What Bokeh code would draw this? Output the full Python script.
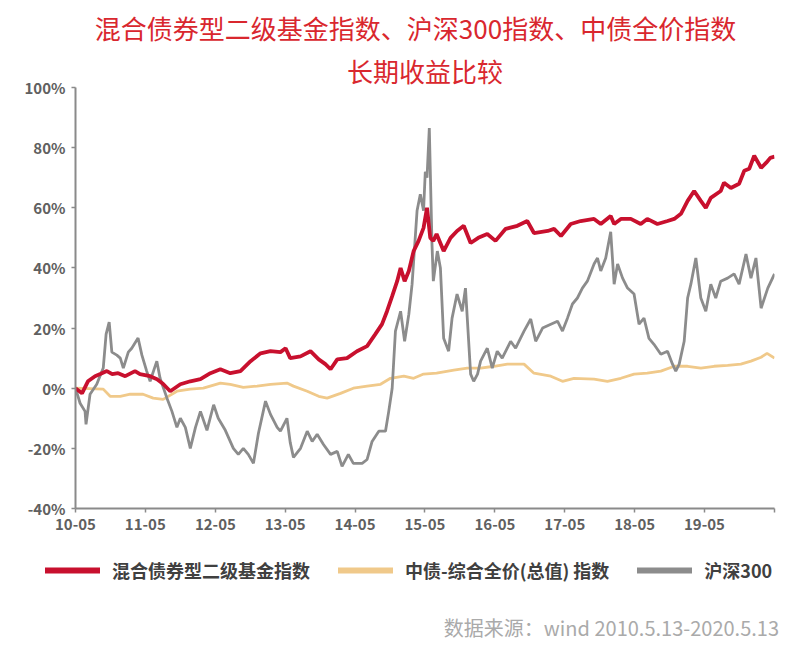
import pandas as pd

from bokeh.plotting import figure
from bokeh.layouts import column
from bokeh.models import (Range1d, FixedTicker, PrintfTickFormatter, Title, Label,
                          Legend, LegendItem)
from bokeh.embed import file_html
from bokeh.resources import INLINE

FONT = "Noto Sans CJK SC"
RED = "#c8102e"
TITLE_RED = "#d9272e"
TAN = "#f0c98a"
GREY = "#8c8c8c"

# 混合债券型二级基金指数 (cumulative return, %)
fund_dates = ["2010-05-13", "2010-06-16", "2010-07-17", "2010-08-23", "2010-09-19", "2010-10-24",
              "2010-11-21", "2010-12-22", "2011-01-28", "2011-03-20", "2011-04-15", "2011-06-07",
              "2011-07-13", "2011-08-13", "2011-09-20", "2011-11-12", "2012-01-03", "2012-02-25",
              "2012-04-17", "2012-06-08", "2012-07-30", "2012-09-21", "2012-11-13", "2013-01-04",
              "2013-02-25", "2013-04-18", "2013-05-15", "2013-06-08", "2013-08-01", "2013-09-22",
              "2013-11-04", "2013-12-09", "2014-01-05", "2014-02-09", "2014-04-01", "2014-05-23",
              "2014-07-15", "2014-08-27", "2014-10-01", "2014-10-27", "2014-11-23", "2014-12-19",
              "2015-01-06", "2015-01-27", "2015-02-18", "2015-03-15", "2015-04-10", "2015-05-06",
              "2015-05-24", "2015-06-10", "2015-06-26", "2015-07-13", "2015-08-19", "2015-09-24",
              "2015-10-28", "2015-12-02", "2016-01-07", "2016-02-16", "2016-04-03", "2016-05-16",
              "2016-07-08", "2016-09-07", "2016-10-29", "2016-12-03", "2017-02-13", "2017-03-18",
              "2017-04-23", "2017-06-13", "2017-08-04", "2017-10-13", "2017-11-17", "2018-01-08",
              "2018-01-26", "2018-03-02", "2018-04-23", "2018-06-14", "2018-07-18", "2018-09-09",
              "2018-11-01", "2018-12-06", "2019-01-10", "2019-02-14", "2019-03-20", "2019-04-24",
              "2019-05-20", "2019-06-15", "2019-08-06", "2019-08-23", "2019-09-28", "2019-11-10",
              "2019-12-07", "2020-01-02", "2020-01-28", "2020-03-04", "2020-03-31", "2020-04-21",
              "2020-05-13"]
fund_pct = [0, -1.7, 2.3, 4.0, 4.7, 5.7,
            4.7, 5.0, 4.0, 5.7, 4.7, 4.0,
            3.0, 1.5, -1.0, 1.3, 2.3, 3.0,
            5.0, 6.3, 5.0, 5.7, 9.0, 11.6,
            12.3, 12.0, 13.3, 10.0, 10.6, 12.3,
            9.6, 8.0, 6.3, 9.6, 10.0, 12.3,
            14.0, 18.0, 21.3, 25.6, 30.6, 35.6,
            40.0, 35.6, 39.0, 45.6, 49.0, 53.3,
            60.0, 50.0, 49.0, 51.3, 45.6, 50.0,
            52.3, 54.0, 48.3, 50.0, 51.3, 49.0,
            53.0, 54.0, 55.6, 51.6, 52.3, 53.0,
            50.6, 54.6, 55.6, 56.3, 54.6, 57.3,
            54.6, 56.3, 56.3, 54.6, 56.3, 54.6,
            55.6, 56.3, 58.0, 62.3, 65.6, 62.3,
            60.0, 63.3, 65.6, 68.3, 66.6, 68.0,
            72.3, 73.0, 77.3, 73.3, 75.0, 76.6,
            77.0]

# 中债-综合全价(总值)指数
bond_dates = ["2010-05-13", "2010-10-05", "2010-11-10", "2011-01-02", "2011-02-23", "2011-05-01",
              "2011-06-23", "2011-08-14", "2011-10-25", "2012-01-03", "2012-03-11", "2012-06-08",
              "2012-07-30", "2012-10-06", "2012-12-17", "2013-02-25", "2013-05-22", "2013-06-25",
              "2013-09-05", "2013-11-04", "2013-12-18", "2014-02-26", "2014-05-04", "2014-07-15",
              "2014-09-23", "2014-11-14", "2015-01-23", "2015-03-15", "2015-05-06", "2015-07-13",
              "2015-10-11", "2015-12-20", "2016-02-28", "2016-05-08", "2016-07-17", "2016-10-12",
              "2016-12-03", "2017-03-01", "2017-05-01", "2017-06-30", "2017-10-13", "2017-12-22",
              "2018-03-02", "2018-05-10", "2018-07-18", "2018-09-27", "2018-12-06", "2019-02-14",
              "2019-04-24", "2019-07-02", "2019-09-11", "2019-11-19", "2020-01-11", "2020-03-04",
              "2020-04-04", "2020-05-13"]
bond_pct = [0, -0.3, -2.7, -2.7, -2.0, -2.0,
            -3.3, -3.7, -1.0, -0.3, 0.0, 1.7,
            1.3, 0.3, 0.7, 1.3, 1.7, 0.7,
            -1.0, -2.7, -3.3, -1.7, 0.0, 0.7,
            1.3, 3.3, 4.0, 3.3, 4.7, 5.0,
            6.0, 6.7, 6.7, 7.3, 8.0, 8.0,
            5.0, 4.0, 2.3, 3.3, 3.0, 2.3,
            3.3, 4.7, 5.0, 5.7, 7.3, 7.3,
            6.7, 7.3, 7.6, 8.0, 9.0, 10.3,
            11.6, 10.0]

# 沪深300
hs_dates = ["2010-05-13", "2010-06-06", "2010-07-02", "2010-07-07", "2010-07-28", "2010-09-01",
            "2010-10-05", "2010-10-20", "2010-11-05", "2010-11-19", "2010-12-15", "2011-01-02",
            "2011-01-18", "2011-02-13", "2011-03-03", "2011-04-05", "2011-04-25", "2011-05-20",
            "2011-06-07", "2011-07-12", "2011-07-29", "2011-09-03", "2011-09-29", "2011-10-25",
            "2011-11-12", "2011-12-08", "2012-01-03", "2012-01-30", "2012-02-25", "2012-03-30",
            "2012-05-04", "2012-05-28", "2012-07-04", "2012-08-15", "2012-09-10", "2012-10-06",
            "2012-11-01", "2012-11-28", "2012-12-24", "2013-01-30", "2013-02-25", "2013-04-01",
            "2013-04-18", "2013-05-22", "2013-06-08", "2013-06-25", "2013-08-01", "2013-09-05",
            "2013-10-01", "2013-10-27", "2013-11-29", "2014-01-05", "2014-02-09", "2014-03-06",
            "2014-04-08", "2014-05-04", "2014-06-19", "2014-07-15", "2014-08-10", "2014-09-14",
            "2014-10-19", "2014-11-05", "2014-11-23", "2014-12-10", "2015-01-06", "2015-01-27",
            "2015-02-18", "2015-03-07", "2015-04-02", "2015-04-19", "2015-05-06", "2015-05-15",
            "2015-05-24", "2015-06-05", "2015-06-19", "2015-06-26", "2015-07-17", "2015-08-02",
            "2015-08-19", "2015-09-14", "2015-10-02", "2015-10-28", "2015-11-24", "2015-12-11",
            "2016-01-07", "2016-01-23", "2016-02-12", "2016-02-28", "2016-04-03", "2016-04-29",
            "2016-05-25", "2016-06-20", "2016-08-03", "2016-08-29", "2016-10-12", "2016-11-16",
            "2016-12-12", "2017-01-17", "2017-03-01", "2017-04-05", "2017-05-01", "2017-05-27",
            "2017-06-22", "2017-07-18", "2017-08-13", "2017-09-08", "2017-10-13", "2017-10-31",
            "2017-11-17", "2017-12-13", "2018-01-08", "2018-01-26", "2018-02-13", "2018-03-11",
            "2018-04-06", "2018-05-10", "2018-06-05", "2018-07-01", "2018-07-27", "2018-08-22",
            "2018-09-27", "2018-11-01", "2018-11-27", "2018-12-14", "2019-01-01", "2019-01-27",
            "2019-02-14", "2019-03-03", "2019-03-29", "2019-04-24", "2019-05-20", "2019-06-15",
            "2019-07-11", "2019-08-06", "2019-09-11", "2019-10-15", "2019-11-10", "2019-12-16",
            "2020-01-11", "2020-02-06", "2020-03-04", "2020-04-08", "2020-05-13"]
hs_pct = [0, -5.0, -7.7, -12.0, -2.0, 1.3,
          6.7, 18.0, 22.0, 12.0, 11.0, 10.0,
          6.7, 12.0, 13.3, 16.7, 11.0, 5.7,
          2.3, 9.0, 3.3, -3.3, -7.7, -13.0,
          -10.0, -13.0, -20.0, -13.0, -7.7, -14.0,
          -5.5, -10.0, -14.0, -20.0, -22.0, -20.0,
          -22.0, -25.0, -15.0, -4.3, -8.7, -13.0,
          -14.3, -10.0, -18.0, -23.0, -20.0, -14.3,
          -17.7, -15.3, -18.7, -22.0, -21.0, -26.0,
          -22.0, -25.0, -25.0, -23.7, -17.7, -14.3,
          -14.3, -7.7, 0.0, 19.0, 25.6, 15.6,
          24.6, 34.6, 59.0, 64.5, 59.0, 72.0,
          70.0, 86.5, 48.0, 35.6, 45.6, 40.0,
          16.6, 12.3, 23.3, 31.3, 25.6, 33.3,
          4.7, 2.3, 4.7, 9.0, 13.3, 6.7,
          12.3, 10.0, 15.6, 13.3, 19.0, 23.0,
          15.6, 20.0, 21.3, 22.3, 19.0, 23.3,
          28.0, 30.0, 33.3, 35.6, 41.3, 43.3,
          39.0, 43.3, 52.0, 34.6, 41.3, 36.6,
          33.3, 31.3, 21.3, 23.3, 16.6, 14.6,
          11.3, 12.3, 8.0, 5.7, 8.0, 15.6,
          30.0, 34.6, 43.3, 30.0, 25.6, 34.6,
          30.0, 35.6, 36.6, 38.0, 34.6, 44.6,
          36.6, 43.3, 26.6, 33.3, 38.0]

x_tick_dates = ["2010-05-13", "2011-05-13", "2012-05-13", "2013-05-13", "2014-05-13", "2015-05-13",
                "2016-05-13", "2017-05-13", "2018-05-13", "2019-05-13", "2020-05-13"]
x_tick_labels = ["10-05", "11-05", "12-05", "13-05", "14-05", "15-05",
                 "16-05", "17-05", "18-05", "19-05", ""]
y_ticks = [-40, -20, 0, 20, 40, 60, 80, 100]

series_names = ["混合债券型二级基金指数", "中债-综合全价(总值) 指数", "沪深300"]


def ms(d):
    return pd.Timestamp(d).value / 1e6


def blank(fig):
    fig.outline_line_color = None
    fig.xgrid.grid_line_color = None
    fig.ygrid.grid_line_color = None
    fig.min_border = 0
    fig.frame_align = False


x_ticks = [ms(d) for d in x_tick_dates]

# --- first title line ---
top = figure(width=794, height=47, x_range=(0, 794), y_range=(0, 47),
             x_axis_location=None, y_axis_location=None,
             output_backend="svg", toolbar_location=None)
blank(top)
top.add_layout(Label(x=415, y=20, x_units="screen", y_units="screen",
                     text="混合债券型二级基金指数、沪深300指数、中债全价指数",
                     text_align="center", text_baseline="middle", text_font=FONT,
                     text_font_size="26px", text_color=TITLE_RED))

# --- main chart ---
p = figure(width=794, height=499, x_axis_type="datetime",
           x_range=Range1d(x_ticks[0], x_ticks[-1]), y_range=Range1d(-40, 100),
           output_backend="svg", toolbar_location=None,
           min_border_left=75, min_border_right=20, min_border_top=40, min_border_bottom=38)
p.outline_line_color = None
p.xgrid.grid_line_color = None
p.ygrid.grid_line_color = None
p.frame_align = False

for ax in (p.xaxis[0], p.yaxis[0]):
    ax.axis_line_color = "#8a8a8a"
    ax.axis_line_width = 2
    ax.major_tick_line_color = "#8a8a8a"
    ax.major_tick_line_width = 1.5
    ax.major_tick_in = 0
    ax.major_tick_out = 4
    ax.minor_tick_line_color = None
    ax.major_label_text_font = FONT
    ax.major_label_text_font_size = "15px"
    ax.major_label_text_font_style = "bold"
    ax.major_label_text_color = "#606060"

p.xaxis.ticker = FixedTicker(ticks=x_ticks)
p.xaxis.major_label_overrides = {t: lab for t, lab in zip(x_ticks, x_tick_labels)}
p.xaxis.major_label_standoff = 6
p.yaxis.ticker = FixedTicker(ticks=y_ticks)
p.yaxis.formatter = PrintfTickFormatter(format="%d%%")
p.yaxis.major_label_standoff = 6

p.line([ms(d) for d in bond_dates], bond_pct, color=TAN, line_width=2.8)
p.line([ms(d) for d in hs_dates], hs_pct, color=GREY, line_width=2.8)
p.line([ms(d) for d in fund_dates], fund_pct, color=RED, line_width=3.8)

p.add_layout(Title(text="长期收益比较", align="center", text_font=FONT,
                   text_font_size="26px", text_font_style="normal",
                   text_color=TITLE_RED, standoff=-3), "above")

# --- legend and source note ---
bot = figure(width=794, height=113, x_range=(0, 794), y_range=(0, 113),
             x_axis_location=None, y_axis_location=None,
             output_backend="svg", toolbar_location=None)
blank(bot)
swatches = [bot.line([float("nan")], [float("nan")], color=c, line_width=6, line_cap="round")
            for c in (RED, TAN, GREY)]
legend = Legend(items=[LegendItem(label=n, renderers=[r]) for n, r in zip(series_names, swatches)],
                orientation="horizontal", location=(45, 76),
                glyph_width=55, glyph_height=20, label_height=20, label_standoff=12,
                spacing=28, padding=0, margin=0,
                label_text_font=FONT, label_text_font_size="18px", label_text_font_style="bold",
                label_text_color="#404040",
                background_fill_alpha=0, border_line_alpha=0)
bot.add_layout(legend, "center")
bot.add_layout(Label(x=783, y=32, x_units="screen", y_units="screen",
                     text="数据来源：wind  2010.5.13-2020.5.13", text_align="right",
                     text_baseline="middle", text_font=FONT, text_font_size="20px",
                     text_color="#aaaaaa"))

open("out.html", "w").write(file_html(column(top, p, bot, spacing=0), INLINE))
